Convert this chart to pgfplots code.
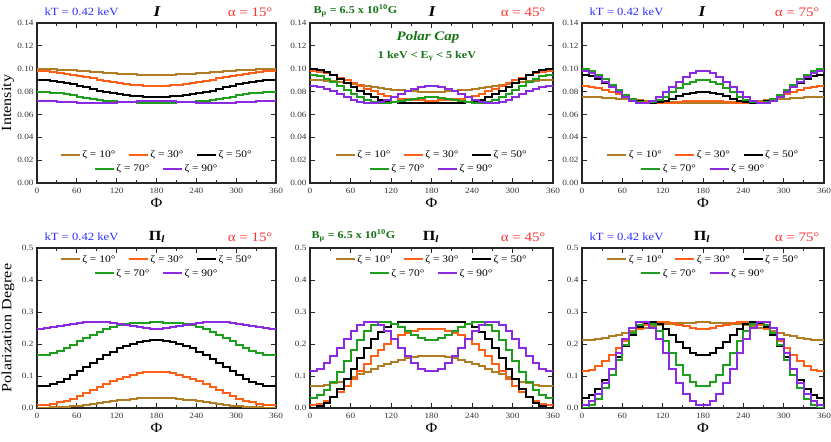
\documentclass[border=0pt]{standalone}
\usepackage{pgfplots}
\pgfplotsset{compat=1.18}
\usepackage{pgfplotstable}
\usepackage{fontspec}
\setmainfont{Liberation Serif}[FakeStretch=1.15]
\newcommand{\fs}[1]{\fontsize{#1}{#1}\selectfont}

\definecolor{cz10}{RGB}{176,124,36}
\definecolor{cz30}{RGB}{255,96,24}
\definecolor{cz50}{RGB}{0,0,0}
\definecolor{cz70}{RGB}{30,160,30}
\definecolor{cz90}{RGB}{138,43,226}
\definecolor{tblue}{RGB}{45,45,255}
\definecolor{tred}{RGB}{255,50,50}
\definecolor{tgreen}{RGB}{20,115,20}

\tikzset{
  s10/.style={color=cz10, line width=2pt},
  s30/.style={color=cz30, line width=2pt},
  s50/.style={color=cz50, line width=2pt},
  s70/.style={color=cz70, line width=2pt},
  s90/.style={color=cz90, line width=2pt},
}

\pgfplotsset{
  panel/.style={scale only axis, height=160pt, anchor=south west,
    xmin=0, xmax=360, xtick={0,60,120,180,240,300,360}, minor x tick num=1,
    tick align=inside, axis line style={line width=1.1pt, black!85},
    major tick length=5pt, minor tick length=3pt,
    every tick/.style={black!85, line width=0.9pt},
    tick label style={font=\fs{8}, black!80},
    xticklabel style={yshift=-1.5pt},
    /pgf/number format/assume math mode=true,
    every axis plot/.append style={const plot}},
  topI/.style={ymin=0, ymax=0.14, ytick={0,0.02,0.04,0.06,0.08,0.10,0.12,0.14},
    yticklabel style={/pgf/number format/.cd, fixed, fixed zerofill, precision=2}},
  botP/.style={ymin=0, ymax=0.5, ytick={0,0.1,0.2,0.3,0.4,0.5},
    yticklabel style={/pgf/number format/.cd, fixed, fixed zerofill, precision=1}},
  legaxis/.style={scale only axis, height=160pt, anchor=south west, hide axis,
    xmin=0, xmax=1, ymin=0, ymax=1,
    legend style={anchor=center, draw=none, fill=none, font=\fs{10},
      nodes={inner sep=1.5pt},
      /tikz/every even column/.append style={column sep=11pt}},
    legend image code/.code={\draw[##1] (0pt,0pt) -- (19pt,0pt);}},
}

\newcommand{\zlegend}[5]{%
\begin{axis}[legaxis, at={(#1,#2)}, width=#3, legend columns=3, legend style={at={(0.5,#4)}}]
\addlegendimage{s10}\addlegendentry{ζ = 10°}
\addlegendimage{s30}\addlegendentry{ζ = 30°}
\addlegendimage{s50}\addlegendentry{ζ = 50°}
\end{axis}
\begin{axis}[legaxis, at={(#1,#2)}, width=#3, legend columns=2, legend style={at={(0.5,#5)}}]
\addlegendimage{s70}\addlegendentry{ζ = 70°}
\addlegendimage{s90}\addlegendentry{ζ = 90°}
\end{axis}}

\pgfplotstableread{
x a b c d e
0 0.0998 0.0980 0.0901 0.0798 0.0720
10 0.0997 0.0977 0.0898 0.0796 0.0719
20 0.0995 0.0973 0.0892 0.0791 0.0717
30 0.0993 0.0966 0.0884 0.0784 0.0713
40 0.0990 0.0958 0.0874 0.0776 0.0710
50 0.0986 0.0949 0.0862 0.0766 0.0707
60 0.0982 0.0938 0.0849 0.0756 0.0704
70 0.0978 0.0927 0.0836 0.0746 0.0701
80 0.0974 0.0916 0.0822 0.0737 0.0700
90 0.0969 0.0904 0.0809 0.0729 0.0700
100 0.0965 0.0893 0.0797 0.0721 0.0701
110 0.0961 0.0883 0.0787 0.0716 0.0704
120 0.0957 0.0874 0.0777 0.0711 0.0707
130 0.0954 0.0867 0.0769 0.0708 0.0710
140 0.0951 0.0860 0.0763 0.0705 0.0713
150 0.0949 0.0855 0.0758 0.0704 0.0717
160 0.0947 0.0852 0.0755 0.0703 0.0719
170 0.0946 0.0850 0.0754 0.0702 0.0720
180 0.0946 0.0850 0.0754 0.0702 0.0720
190 0.0947 0.0852 0.0755 0.0703 0.0719
200 0.0949 0.0855 0.0758 0.0704 0.0717
210 0.0951 0.0860 0.0763 0.0705 0.0713
220 0.0954 0.0867 0.0769 0.0708 0.0710
230 0.0957 0.0874 0.0777 0.0711 0.0707
240 0.0961 0.0883 0.0787 0.0716 0.0704
250 0.0965 0.0893 0.0797 0.0721 0.0701
260 0.0969 0.0904 0.0809 0.0729 0.0700
270 0.0974 0.0916 0.0822 0.0737 0.0700
280 0.0978 0.0927 0.0836 0.0746 0.0701
290 0.0982 0.0938 0.0849 0.0756 0.0704
300 0.0986 0.0949 0.0862 0.0766 0.0707
310 0.0990 0.0958 0.0874 0.0776 0.0710
320 0.0993 0.0966 0.0884 0.0784 0.0713
330 0.0995 0.0973 0.0892 0.0791 0.0717
340 0.0997 0.0977 0.0898 0.0796 0.0719
350 0.0998 0.0980 0.0901 0.0798 0.0720
360 0.0998 0.0980 0.0901 0.0798 0.0720
}\TIa

\pgfplotstableread{
x a b c d e
0 0.0901 0.0979 0.0996 0.0945 0.0849
10 0.0899 0.0973 0.0987 0.0934 0.0840
20 0.0896 0.0961 0.0968 0.0914 0.0823
30 0.0891 0.0944 0.0942 0.0885 0.0801
40 0.0884 0.0923 0.0910 0.0852 0.0775
50 0.0876 0.0899 0.0876 0.0816 0.0749
60 0.0868 0.0874 0.0840 0.0782 0.0727
70 0.0859 0.0849 0.0806 0.0751 0.0710
80 0.0850 0.0824 0.0776 0.0727 0.0701
90 0.0841 0.0801 0.0750 0.0710 0.0701
100 0.0833 0.0781 0.0730 0.0701 0.0710
110 0.0825 0.0764 0.0715 0.0700 0.0727
120 0.0818 0.0750 0.0706 0.0706 0.0749
130 0.0811 0.0739 0.0702 0.0716 0.0775
140 0.0807 0.0731 0.0700 0.0727 0.0801
150 0.0803 0.0726 0.0700 0.0739 0.0823
160 0.0800 0.0722 0.0701 0.0748 0.0840
170 0.0799 0.0720 0.0702 0.0753 0.0849
180 0.0799 0.0720 0.0702 0.0753 0.0849
190 0.0800 0.0722 0.0701 0.0748 0.0840
200 0.0803 0.0726 0.0700 0.0739 0.0823
210 0.0807 0.0731 0.0700 0.0727 0.0801
220 0.0811 0.0739 0.0702 0.0716 0.0775
230 0.0818 0.0750 0.0706 0.0706 0.0749
240 0.0825 0.0764 0.0715 0.0700 0.0727
250 0.0833 0.0781 0.0730 0.0701 0.0710
260 0.0841 0.0801 0.0750 0.0710 0.0701
270 0.0850 0.0824 0.0776 0.0727 0.0701
280 0.0859 0.0849 0.0806 0.0751 0.0710
290 0.0868 0.0874 0.0840 0.0782 0.0727
300 0.0876 0.0899 0.0876 0.0816 0.0749
310 0.0884 0.0923 0.0910 0.0852 0.0775
320 0.0891 0.0944 0.0942 0.0885 0.0801
330 0.0896 0.0961 0.0968 0.0914 0.0823
340 0.0899 0.0973 0.0987 0.0934 0.0840
350 0.0901 0.0979 0.0996 0.0945 0.0849
360 0.0901 0.0979 0.0996 0.0945 0.0849
}\TIb

\pgfplotstableread{
x a b c d e
0 0.0753 0.0849 0.0945 0.0996 0.0978
10 0.0752 0.0843 0.0933 0.0980 0.0961
20 0.0750 0.0831 0.0910 0.0949 0.0930
30 0.0746 0.0815 0.0879 0.0908 0.0888
40 0.0742 0.0796 0.0843 0.0860 0.0840
50 0.0737 0.0775 0.0805 0.0811 0.0792
60 0.0732 0.0755 0.0769 0.0767 0.0750
70 0.0727 0.0737 0.0738 0.0731 0.0719
80 0.0722 0.0721 0.0716 0.0708 0.0702
90 0.0717 0.0710 0.0703 0.0700 0.0702
100 0.0713 0.0703 0.0700 0.0706 0.0719
110 0.0710 0.0700 0.0706 0.0726 0.0750
120 0.0708 0.0701 0.0720 0.0756 0.0792
130 0.0706 0.0704 0.0738 0.0792 0.0840
140 0.0704 0.0709 0.0758 0.0829 0.0888
150 0.0703 0.0714 0.0776 0.0862 0.0930
160 0.0703 0.0718 0.0790 0.0886 0.0961
170 0.0702 0.0720 0.0798 0.0900 0.0978
180 0.0702 0.0720 0.0798 0.0900 0.0978
190 0.0703 0.0718 0.0790 0.0886 0.0961
200 0.0703 0.0714 0.0776 0.0862 0.0930
210 0.0704 0.0709 0.0758 0.0829 0.0888
220 0.0706 0.0704 0.0738 0.0792 0.0840
230 0.0708 0.0701 0.0720 0.0756 0.0792
240 0.0710 0.0700 0.0706 0.0726 0.0750
250 0.0713 0.0703 0.0700 0.0706 0.0719
260 0.0717 0.0710 0.0703 0.0700 0.0702
270 0.0722 0.0721 0.0716 0.0708 0.0702
280 0.0727 0.0737 0.0738 0.0731 0.0719
290 0.0732 0.0755 0.0769 0.0767 0.0750
300 0.0737 0.0775 0.0805 0.0811 0.0792
310 0.0742 0.0796 0.0843 0.0860 0.0840
320 0.0746 0.0815 0.0879 0.0908 0.0888
330 0.0750 0.0831 0.0910 0.0949 0.0930
340 0.0752 0.0843 0.0933 0.0980 0.0961
350 0.0753 0.0849 0.0945 0.0996 0.0978
360 0.0753 0.0849 0.0945 0.0996 0.0978
}\TIc

\pgfplotstableread{
x a b c d e
0 0.0007 0.0094 0.0678 0.1644 0.2479
10 0.0009 0.0107 0.0703 0.1670 0.2492
20 0.0016 0.0134 0.0752 0.1719 0.2517
30 0.0025 0.0174 0.0824 0.1791 0.2550
40 0.0039 0.0229 0.0916 0.1879 0.2588
50 0.0057 0.0296 0.1026 0.1978 0.2627
60 0.0078 0.0374 0.1145 0.2083 0.2660
70 0.0102 0.0461 0.1275 0.2190 0.2685
80 0.0129 0.0553 0.1405 0.2291 0.2698
90 0.0157 0.0647 0.1534 0.2382 0.2698
100 0.0185 0.0740 0.1655 0.2462 0.2685
110 0.0213 0.0829 0.1765 0.2528 0.2660
120 0.0239 0.0910 0.1863 0.2579 0.2627
130 0.0262 0.0981 0.1945 0.2616 0.2588
140 0.0282 0.1041 0.2011 0.2643 0.2550
150 0.0297 0.1087 0.2060 0.2660 0.2517
160 0.0308 0.1118 0.2094 0.2670 0.2492
170 0.0313 0.1133 0.2110 0.2674 0.2479
180 0.0313 0.1133 0.2110 0.2674 0.2479
190 0.0308 0.1118 0.2094 0.2670 0.2492
200 0.0297 0.1087 0.2060 0.2660 0.2517
210 0.0282 0.1041 0.2011 0.2643 0.2550
220 0.0262 0.0981 0.1945 0.2616 0.2588
230 0.0239 0.0910 0.1863 0.2579 0.2627
240 0.0213 0.0829 0.1765 0.2528 0.2660
250 0.0185 0.0740 0.1655 0.2462 0.2685
260 0.0157 0.0647 0.1534 0.2382 0.2698
270 0.0129 0.0553 0.1405 0.2291 0.2698
280 0.0102 0.0461 0.1275 0.2190 0.2685
290 0.0078 0.0374 0.1145 0.2083 0.2660
300 0.0057 0.0296 0.1026 0.1978 0.2627
310 0.0039 0.0229 0.0916 0.1879 0.2588
320 0.0025 0.0174 0.0824 0.1791 0.2550
330 0.0016 0.0134 0.0752 0.1719 0.2517
340 0.0009 0.0107 0.0703 0.1670 0.2492
350 0.0007 0.0094 0.0678 0.1644 0.2479
360 0.0007 0.0094 0.0678 0.1644 0.2479
}\TPa

\pgfplotstableread{
x a b c d e
0 0.0676 0.0096 0.0011 0.0323 0.1146
10 0.0692 0.0133 0.0055 0.0405 0.1232
20 0.0723 0.0210 0.0164 0.0569 0.1395
30 0.0767 0.0330 0.0346 0.0812 0.1621
40 0.0824 0.0492 0.0596 0.1117 0.1886
50 0.0892 0.0691 0.0899 0.1462 0.2158
60 0.0969 0.0913 0.1231 0.1813 0.2403
70 0.1051 0.1148 0.1566 0.2136 0.2588
80 0.1135 0.1386 0.1881 0.2401 0.2687
90 0.1222 0.1613 0.2153 0.2587 0.2687
100 0.1305 0.1819 0.2371 0.2684 0.2588
110 0.1381 0.1998 0.2531 0.2695 0.2403
120 0.1451 0.2147 0.2631 0.2635 0.2158
130 0.1512 0.2266 0.2683 0.2527 0.1886
140 0.1562 0.2354 0.2700 0.2395 0.1621
150 0.1601 0.2416 0.2696 0.2270 0.1395
160 0.1626 0.2455 0.2684 0.2173 0.1232
170 0.1639 0.2475 0.2676 0.2119 0.1146
180 0.1639 0.2475 0.2676 0.2119 0.1146
190 0.1626 0.2455 0.2684 0.2173 0.1232
200 0.1601 0.2416 0.2696 0.2270 0.1395
210 0.1562 0.2354 0.2700 0.2395 0.1621
220 0.1512 0.2266 0.2683 0.2527 0.1886
230 0.1451 0.2147 0.2631 0.2635 0.2158
240 0.1381 0.1998 0.2531 0.2695 0.2403
250 0.1305 0.1819 0.2371 0.2684 0.2588
260 0.1222 0.1613 0.2153 0.2587 0.2687
270 0.1135 0.1386 0.1881 0.2401 0.2687
280 0.1051 0.1148 0.1566 0.2136 0.2588
290 0.0969 0.0913 0.1231 0.1813 0.2403
300 0.0892 0.0691 0.0899 0.1462 0.2158
310 0.0824 0.0492 0.0596 0.1117 0.1886
320 0.0767 0.0330 0.0346 0.0812 0.1621
330 0.0723 0.0210 0.0164 0.0569 0.1395
340 0.0692 0.0133 0.0055 0.0405 0.1232
350 0.0676 0.0096 0.0011 0.0323 0.1146
360 0.0676 0.0096 0.0011 0.0323 0.1146
}\TPb

\pgfplotstableread{
x a b c d e
0 0.2114 0.1143 0.0325 0.0013 0.0104
10 0.2128 0.1202 0.0415 0.0094 0.0210
20 0.2154 0.1315 0.0598 0.0294 0.0439
30 0.2192 0.1474 0.0868 0.0619 0.0791
40 0.2239 0.1669 0.1206 0.1043 0.1232
50 0.2291 0.1883 0.1581 0.1514 0.1708
60 0.2347 0.2097 0.1950 0.1971 0.2151
70 0.2404 0.2296 0.2276 0.2352 0.2492
80 0.2458 0.2464 0.2523 0.2606 0.2676
90 0.2508 0.2589 0.2665 0.2700 0.2676
100 0.2551 0.2667 0.2698 0.2629 0.2492
110 0.2587 0.2699 0.2629 0.2410 0.2151
120 0.2616 0.2691 0.2478 0.2086 0.1708
130 0.2638 0.2654 0.2279 0.1710 0.1232
140 0.2654 0.2602 0.2065 0.1341 0.0791
150 0.2665 0.2548 0.1873 0.1027 0.0439
160 0.2671 0.2504 0.1727 0.0803 0.0210
170 0.2674 0.2480 0.1651 0.0689 0.0104
180 0.2674 0.2480 0.1651 0.0689 0.0104
190 0.2671 0.2504 0.1727 0.0803 0.0210
200 0.2665 0.2548 0.1873 0.1027 0.0439
210 0.2654 0.2602 0.2065 0.1341 0.0791
220 0.2638 0.2654 0.2279 0.1710 0.1232
230 0.2616 0.2691 0.2478 0.2086 0.1708
240 0.2587 0.2699 0.2629 0.2410 0.2151
250 0.2551 0.2667 0.2698 0.2629 0.2492
260 0.2508 0.2589 0.2665 0.2700 0.2676
270 0.2458 0.2464 0.2523 0.2606 0.2676
280 0.2404 0.2296 0.2276 0.2352 0.2492
290 0.2347 0.2097 0.1950 0.1971 0.2151
300 0.2291 0.1883 0.1581 0.1514 0.1708
310 0.2239 0.1669 0.1206 0.1043 0.1232
320 0.2192 0.1474 0.0868 0.0619 0.0791
330 0.2154 0.1315 0.0598 0.0294 0.0439
340 0.2128 0.1202 0.0415 0.0094 0.0210
350 0.2114 0.1143 0.0325 0.0013 0.0104
360 0.2114 0.1143 0.0325 0.0013 0.0104
}\TPc

\newcommand{\fivecurves}[1]{%
\addplot[s10] table[x=x,y=a]{#1};
\addplot[s30] table[x=x,y=b]{#1};
\addplot[s50] table[x=x,y=c]{#1};
\addplot[s70] table[x=x,y=d]{#1};
\addplot[s90] table[x=x,y=e]{#1};}

\begin{document}
\begin{tikzpicture}
\useasboundingbox (0,0) rectangle (831pt,442pt);

% ---------------- top row: intensity ----------------
\begin{axis}[panel, topI, at={(37pt,259pt)}, width=239pt]
\fivecurves{\TIa}
\end{axis}
\zlegend{37pt}{259pt}{239pt}{0.175}{0.0875}

\begin{axis}[panel, topI, at={(310pt,259pt)}, width=243pt]
\fivecurves{\TIb}
\end{axis}
\zlegend{310pt}{259pt}{243pt}{0.175}{0.0875}

\begin{axis}[panel, topI, at={(582pt,259pt)}, width=242pt]
\fivecurves{\TIc}
\end{axis}
\zlegend{582pt}{259pt}{242pt}{0.175}{0.0875}

% ---------------- bottom row: polarization ----------------
\begin{axis}[panel, botP, at={(37pt,34pt)}, width=239pt]
\fivecurves{\TPa}
\end{axis}
\zlegend{37pt}{34pt}{239pt}{0.929}{0.842}

\begin{axis}[panel, botP, at={(310pt,34pt)}, width=243pt]
\fivecurves{\TPb}
\end{axis}
\zlegend{310pt}{34pt}{243pt}{0.929}{0.842}

\begin{axis}[panel, botP, at={(582pt,34pt)}, width=242pt]
\fivecurves{\TPc}
\end{axis}
\zlegend{582pt}{34pt}{242pt}{0.929}{0.842}

% ---------------- labels ----------------
\node[rotate=90, font=\fs{14}] at (8pt,339pt) {Intensity};
\node[rotate=90, font=\fs{14}] at (8pt,114pt) {Polarization Degree};

\foreach \xc in {156.5,431.5,703} {
  \node[font=\fs{14}] at (\xc pt,239pt) {Φ};
  \node[font=\fs{14}] at (\xc pt,14pt) {Φ};
}

% top titles
\node[anchor=west, text=tblue, font=\fs{11}] at (41pt,430pt) {kT = 0.42 keV};
\node[font=\bfseries\itshape\fs{15}] at (157pt,430pt) {I};
\node[anchor=east, text=tred, font=\fs{13}] at (276pt,430pt) {α = 15°};

\node[anchor=west, text=tgreen, font=\bfseries\fs{10.5}] at (310pt,431pt) {B\textsubscript{p} = 6.5 x 10\textsuperscript{10}G};
\node[font=\bfseries\itshape\fs{15}] at (432pt,430pt) {I};
\node[anchor=east, text=tred, font=\fs{13}] at (549pt,430pt) {α = 45°};

\node[anchor=west, text=tblue, font=\fs{11}] at (586pt,430pt) {kT = 0.42 keV};
\node[font=\bfseries\itshape\fs{15}] at (702pt,430pt) {I};
\node[anchor=east, text=tred, font=\fs{13}] at (823pt,430pt) {α = 75°};

\node[text=tgreen, font=\bfseries\itshape\fs{13}] at (428pt,405pt) {Polar Cap};
\node[text=tgreen, font=\bfseries\fs{10.5}] at (427pt,386pt) {1 keV < E\textsubscript{γ} < 5 keV};

% bottom titles
\node[anchor=west, text=tblue, font=\fs{11}] at (41pt,205pt) {kT = 0.42 keV};
\node[font=\bfseries\fs{14}] at (157pt,205pt) {Π\textsubscript{\textit{l}}};
\node[anchor=east, text=tred, font=\fs{13}] at (276pt,205pt) {α = 15°};

\node[anchor=west, text=tgreen, font=\bfseries\fs{10.5}] at (308pt,206pt) {B\textsubscript{p} = 6.5 x 10\textsuperscript{10}G};
\node[font=\bfseries\fs{14}] at (431pt,205pt) {Π\textsubscript{\textit{l}}};
\node[anchor=east, text=tred, font=\fs{13}] at (549pt,205pt) {α = 45°};

\node[anchor=west, text=tblue, font=\fs{11}] at (586pt,205pt) {kT = 0.42 keV};
\node[font=\bfseries\fs{14}] at (702pt,205pt) {Π\textsubscript{\textit{l}}};
\node[anchor=east, text=tred, font=\fs{13}] at (823pt,205pt) {α = 75°};
\end{tikzpicture}
\end{document}
